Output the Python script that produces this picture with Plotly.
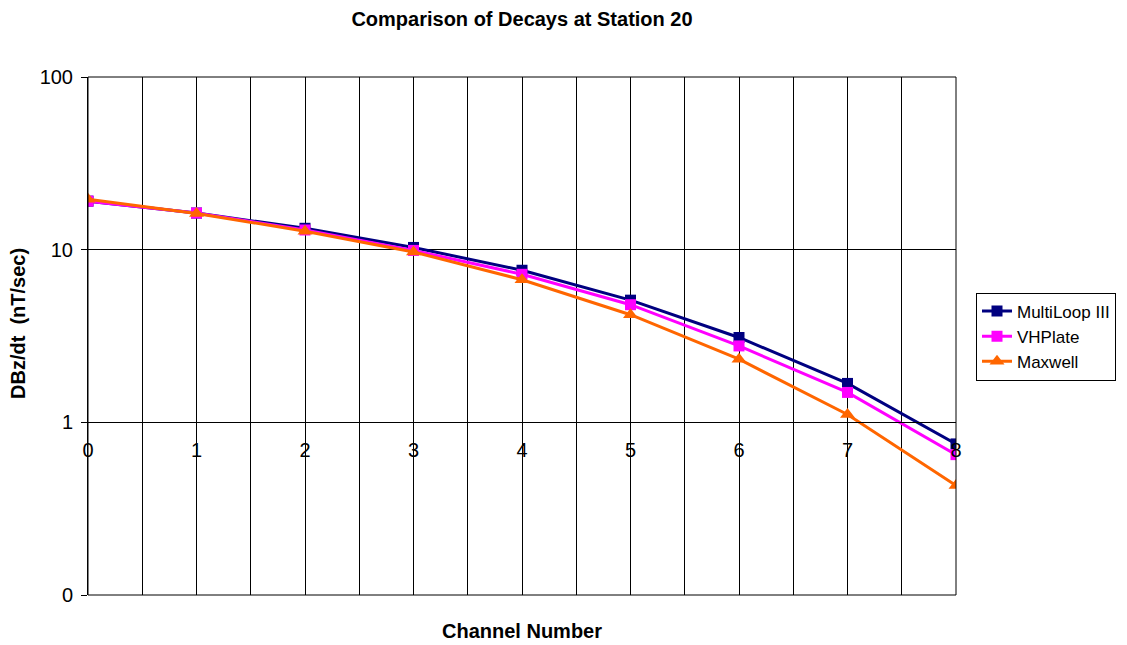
import plotly.graph_objects as go

channels = [0, 1, 2, 3, 4, 5, 6, 7, 8]
multiloop = [19.1, 16.3, 13.3, 10.3, 7.6, 5.1, 3.1, 1.68, 0.75]
vhplate = [19.1, 16.3, 13.0, 9.9, 7.2, 4.8, 2.77, 1.49, 0.65]
maxwell = [19.6, 16.2, 12.8, 9.7, 6.7, 4.2, 2.32, 1.11, 0.43]

y_tickvals = [0.1, 1, 10, 100]
y_ticktext = ["0", "1", "10", "100"]
x_ticklabels = [str(c) for c in channels]

FONT = "Liberation Sans, Arial, sans-serif"
L, R, T, B = 88, 171, 77, 50
PW, PH = 1127 - L - R, 645 - T - B

fig = go.Figure()
series = [
    ("MultiLoop III", multiloop, "#000080", "square", 11),
    ("VHPlate", vhplate, "#FF00FF", "square", 11),
    ("Maxwell", maxwell, "#FF6600", "triangle-up", 13),
]
for name, vals, col, sym, sz in series:
    fig.add_trace(go.Scatter(
        x=channels, y=vals, name=name, mode="lines+markers",
        line=dict(color=col, width=3),
        marker=dict(symbol=sym, size=sz, color=col),
    ))

fig.update_layout(
    width=1127, height=645,
    margin=dict(l=L, r=R, t=T, b=B, autoexpand=False),
    paper_bgcolor="white", plot_bgcolor="white",
    font=dict(family=FONT, size=19, color="black"),
    title=dict(text="<b>Comparison of Decays at Station 20</b>", x=(L + L + PW) / 2 / 1127,
               xanchor="center", y=1 - 19 / 645, yanchor="middle",
               font=dict(size=20, family=FONT)),
    showlegend=True,
    legend=dict(x=(976 - L) / PW, y=(645 - B - 336.5) / PH, xanchor="left", yanchor="middle",
                bordercolor="black", borderwidth=1, bgcolor="white",
                font=dict(size=17, family=FONT), itemwidth=30,
                tracegroupgap=0),
    xaxis=dict(
        range=[0, 8], tickvals=channels, ticktext=x_ticklabels,
        showgrid=True, gridcolor="black", gridwidth=1,
        minor=dict(dtick=0.5, tick0=0, showgrid=True, gridcolor="black", gridwidth=1),
        showline=True, linecolor="black", linewidth=1,
        anchor="free", position=1 / 3, ticks="", ticklabelstandoff=10,
        tickfont=dict(size=20, family=FONT), zeroline=False, automargin=False,
    ),
    yaxis=dict(
        type="log", range=[-1, 2], tickvals=y_tickvals, ticktext=y_ticktext,
        showgrid=True, gridcolor="black", gridwidth=1,
        showline=True, linecolor="black", linewidth=1,
        ticks="outside", ticklen=6, tickcolor="black", ticklabelstandoff=4,
        tickfont=dict(size=20, family=FONT), zeroline=False, automargin=False,
    ),
    shapes=[dict(type="rect", xref="x domain", yref="y domain", x0=0, x1=1, y0=0, y1=1,
                 line=dict(color="black", width=1), layer="above")],
    annotations=[
        dict(text="<b>Channel Number</b>", xref="paper", yref="paper",
             x=0.5, y=-(631 - (645 - B)) / PH, xanchor="center", yanchor="middle",
             showarrow=False, font=dict(size=20, family=FONT)),
        dict(text="<b>DBz/dt&nbsp;&nbsp;(nT/sec)</b>", xref="paper", yref="paper",
             x=(18 - L) / PW, y=(645 - B - 324) / PH, xanchor="center", yanchor="middle",
             textangle=-90, showarrow=False, font=dict(size=20, family=FONT)),
    ],
)

fig.write_html("out.html", config={"displayModeBar": False},
               post_script="document.body.style.margin='0';document.body.style.overflow='hidden';")
